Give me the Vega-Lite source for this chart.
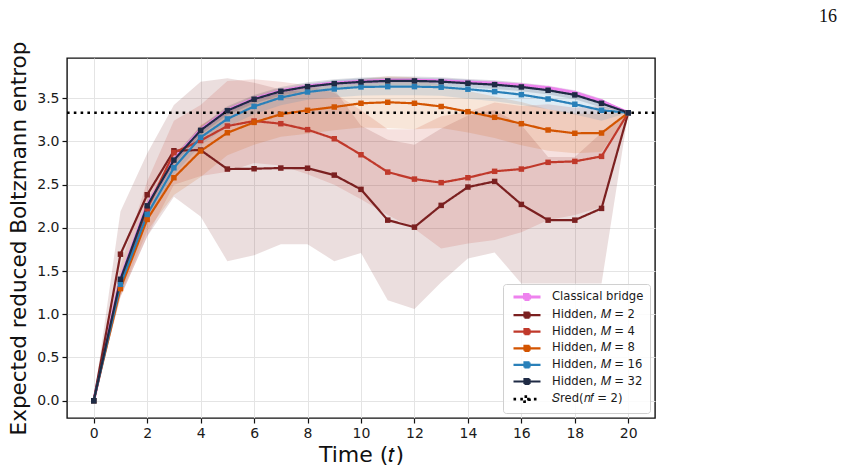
{
  "$schema": "https://vega.github.io/schema/vega-lite/v6.json",
  "width": 588,
  "height": 360,
  "autosize": {"type": "none"},
  "padding": {"left": 67, "top": 58, "right": 190, "bottom": 54},
  "background": "white",
  "title": {
    "text": "16",
    "anchor": "end",
    "frame": "group",
    "font": "Liberation Serif",
    "fontSize": 18,
    "fontWeight": "normal",
    "color": "#111111",
    "dx": 182,
    "offset": 15
  },
  "config": {
    "font": "DejaVu Sans",
    "view": {"stroke": "#111111", "strokeWidth": 1.4},
    "axis": {
      "domain": false,
      "tickColor": "#111111",
      "tickWidth": 1.2,
      "tickSize": 5,
      "labelFont": "DejaVu Sans",
      "labelFontSize": 14,
      "labelColor": "#1a1a1a",
      "gridColor": "#e4e4e4",
      "gridWidth": 1,
      "titleFont": "DejaVu Sans",
      "titleFontSize": 21.5,
      "titleFontWeight": "normal",
      "titleColor": "#111111"
    }
  },
  "datasets": {
    "runs": [
      {"t": 0, "series": "Classical bridge", "mean": 0, "lo": 0, "hi": 0},
      {"t": 1, "series": "Classical bridge", "mean": 1.41, "lo": 1.38, "hi": 1.44},
      {"t": 2, "series": "Classical bridge", "mean": 2.262, "lo": 2.232, "hi": 2.292},
      {"t": 3, "series": "Classical bridge", "mean": 2.792, "lo": 2.762, "hi": 2.822},
      {"t": 4, "series": "Classical bridge", "mean": 3.134, "lo": 3.104, "hi": 3.164},
      {"t": 5, "series": "Classical bridge", "mean": 3.361, "lo": 3.331, "hi": 3.391},
      {"t": 6, "series": "Classical bridge", "mean": 3.493, "lo": 3.463, "hi": 3.523},
      {"t": 7, "series": "Classical bridge", "mean": 3.585, "lo": 3.555, "hi": 3.615},
      {"t": 8, "series": "Classical bridge", "mean": 3.639, "lo": 3.609, "hi": 3.669},
      {"t": 9, "series": "Classical bridge", "mean": 3.675, "lo": 3.645, "hi": 3.705},
      {"t": 10, "series": "Classical bridge", "mean": 3.694, "lo": 3.664, "hi": 3.724},
      {"t": 11, "series": "Classical bridge", "mean": 3.706, "lo": 3.676, "hi": 3.736},
      {"t": 12, "series": "Classical bridge", "mean": 3.707, "lo": 3.677, "hi": 3.737},
      {"t": 13, "series": "Classical bridge", "mean": 3.701, "lo": 3.671, "hi": 3.731},
      {"t": 14, "series": "Classical bridge", "mean": 3.685, "lo": 3.655, "hi": 3.715},
      {"t": 15, "series": "Classical bridge", "mean": 3.673, "lo": 3.643, "hi": 3.703},
      {"t": 16, "series": "Classical bridge", "mean": 3.65, "lo": 3.62, "hi": 3.68},
      {"t": 17, "series": "Classical bridge", "mean": 3.62, "lo": 3.59, "hi": 3.65},
      {"t": 18, "series": "Classical bridge", "mean": 3.564, "lo": 3.534, "hi": 3.594},
      {"t": 19, "series": "Classical bridge", "mean": 3.466, "lo": 3.436, "hi": 3.496},
      {"t": 20, "series": "Classical bridge", "mean": 3.332, "lo": 3.332, "hi": 3.332},

      {"t": 0, "series": "Hidden, 𝑀 = 2", "mean": 0, "lo": 0, "hi": 0},
      {"t": 1, "series": "Hidden, 𝑀 = 2", "mean": 1.695, "lo": 1.2, "hi": 2.19},
      {"t": 2, "series": "Hidden, 𝑀 = 2", "mean": 2.383, "lo": 1.9, "hi": 2.86},
      {"t": 3, "series": "Hidden, 𝑀 = 2", "mean": 2.892, "lo": 2.36, "hi": 3.42},
      {"t": 4, "series": "Hidden, 𝑀 = 2", "mean": 2.9, "lo": 2.13, "hi": 3.69},
      {"t": 5, "series": "Hidden, 𝑀 = 2", "mean": 2.68, "lo": 1.614, "hi": 3.73},
      {"t": 6, "series": "Hidden, 𝑀 = 2", "mean": 2.684, "lo": 1.684, "hi": 3.68},
      {"t": 7, "series": "Hidden, 𝑀 = 2", "mean": 2.692, "lo": 1.811, "hi": 3.6},
      {"t": 8, "series": "Hidden, 𝑀 = 2", "mean": 2.69, "lo": 1.811, "hi": 3.57},
      {"t": 9, "series": "Hidden, 𝑀 = 2", "mean": 2.61, "lo": 1.614, "hi": 3.6},
      {"t": 10, "series": "Hidden, 𝑀 = 2", "mean": 2.445, "lo": 1.71, "hi": 3.18},
      {"t": 11, "series": "Hidden, 𝑀 = 2", "mean": 2.089, "lo": 1.162, "hi": 3.02},
      {"t": 12, "series": "Hidden, 𝑀 = 2", "mean": 2.008, "lo": 1.061, "hi": 2.96},
      {"t": 13, "series": "Hidden, 𝑀 = 2", "mean": 2.26, "lo": 1.37, "hi": 3.15},
      {"t": 14, "series": "Hidden, 𝑀 = 2", "mean": 2.472, "lo": 1.645, "hi": 3.3},
      {"t": 15, "series": "Hidden, 𝑀 = 2", "mean": 2.537, "lo": 1.715, "hi": 3.36},
      {"t": 16, "series": "Hidden, 𝑀 = 2", "mean": 2.271, "lo": 1.355, "hi": 3.19},
      {"t": 17, "series": "Hidden, 𝑀 = 2", "mean": 2.089, "lo": 1.355, "hi": 2.82},
      {"t": 18, "series": "Hidden, 𝑀 = 2", "mean": 2.089, "lo": 1.355, "hi": 2.82},
      {"t": 19, "series": "Hidden, 𝑀 = 2", "mean": 2.225, "lo": 1.355, "hi": 3.1},
      {"t": 20, "series": "Hidden, 𝑀 = 2", "mean": 3.332, "lo": 3.332, "hi": 3.332},

      {"t": 0, "series": "Hidden, 𝑀 = 4", "mean": 0, "lo": 0, "hi": 0},
      {"t": 1, "series": "Hidden, 𝑀 = 4", "mean": 1.38, "lo": 1.2, "hi": 1.56},
      {"t": 2, "series": "Hidden, 𝑀 = 4", "mean": 2.22, "lo": 1.9, "hi": 2.54},
      {"t": 3, "series": "Hidden, 𝑀 = 4", "mean": 2.87, "lo": 2.5, "hi": 3.24},
      {"t": 4, "series": "Hidden, 𝑀 = 4", "mean": 3.01, "lo": 2.6, "hi": 3.42},
      {"t": 5, "series": "Hidden, 𝑀 = 4", "mean": 3.178, "lo": 2.65, "hi": 3.7},
      {"t": 6, "series": "Hidden, 𝑀 = 4", "mean": 3.236, "lo": 2.75, "hi": 3.72},
      {"t": 7, "series": "Hidden, 𝑀 = 4", "mean": 3.205, "lo": 2.72, "hi": 3.69},
      {"t": 8, "series": "Hidden, 𝑀 = 4", "mean": 3.136, "lo": 2.62, "hi": 3.65},
      {"t": 9, "series": "Hidden, 𝑀 = 4", "mean": 3.031, "lo": 2.5, "hi": 3.56},
      {"t": 10, "series": "Hidden, 𝑀 = 4", "mean": 2.846, "lo": 2.33, "hi": 3.36},
      {"t": 11, "series": "Hidden, 𝑀 = 4", "mean": 2.645, "lo": 2.15, "hi": 3.14},
      {"t": 12, "series": "Hidden, 𝑀 = 4", "mean": 2.564, "lo": 1.99, "hi": 3.14},
      {"t": 13, "series": "Hidden, 𝑀 = 4", "mean": 2.523, "lo": 1.76, "hi": 3.29},
      {"t": 14, "series": "Hidden, 𝑀 = 4", "mean": 2.58, "lo": 1.82, "hi": 3.34},
      {"t": 15, "series": "Hidden, 𝑀 = 4", "mean": 2.654, "lo": 1.86, "hi": 3.45},
      {"t": 16, "series": "Hidden, 𝑀 = 4", "mean": 2.68, "lo": 1.95, "hi": 3.41},
      {"t": 17, "series": "Hidden, 𝑀 = 4", "mean": 2.758, "lo": 2.09, "hi": 3.43},
      {"t": 18, "series": "Hidden, 𝑀 = 4", "mean": 2.769, "lo": 2.15, "hi": 3.39},
      {"t": 19, "series": "Hidden, 𝑀 = 4", "mean": 2.827, "lo": 2.24, "hi": 3.41},
      {"t": 20, "series": "Hidden, 𝑀 = 4", "mean": 3.332, "lo": 3.332, "hi": 3.332},

      {"t": 0, "series": "Hidden, 𝑀 = 8", "mean": 0, "lo": 0, "hi": 0},
      {"t": 1, "series": "Hidden, 𝑀 = 8", "mean": 1.297, "lo": 1.217, "hi": 1.377},
      {"t": 2, "series": "Hidden, 𝑀 = 8", "mean": 2.097, "lo": 1.967, "hi": 2.227},
      {"t": 3, "series": "Hidden, 𝑀 = 8", "mean": 2.58, "lo": 2.38, "hi": 2.78},
      {"t": 4, "series": "Hidden, 𝑀 = 8", "mean": 2.889, "lo": 2.589, "hi": 3.189},
      {"t": 5, "series": "Hidden, 𝑀 = 8", "mean": 3.1, "lo": 2.84, "hi": 3.36},
      {"t": 6, "series": "Hidden, 𝑀 = 8", "mean": 3.22, "lo": 2.96, "hi": 3.48},
      {"t": 7, "series": "Hidden, 𝑀 = 8", "mean": 3.314, "lo": 3.054, "hi": 3.574},
      {"t": 8, "series": "Hidden, 𝑀 = 8", "mean": 3.36, "lo": 3.09, "hi": 3.63},
      {"t": 9, "series": "Hidden, 𝑀 = 8", "mean": 3.398, "lo": 3.128, "hi": 3.668},
      {"t": 10, "series": "Hidden, 𝑀 = 8", "mean": 3.441, "lo": 3.161, "hi": 3.721},
      {"t": 11, "series": "Hidden, 𝑀 = 8", "mean": 3.453, "lo": 3.153, "hi": 3.753},
      {"t": 12, "series": "Hidden, 𝑀 = 8", "mean": 3.441, "lo": 3.141, "hi": 3.741},
      {"t": 13, "series": "Hidden, 𝑀 = 8", "mean": 3.404, "lo": 3.154, "hi": 3.654},
      {"t": 14, "series": "Hidden, 𝑀 = 8", "mean": 3.344, "lo": 3.104, "hi": 3.584},
      {"t": 15, "series": "Hidden, 𝑀 = 8", "mean": 3.279, "lo": 3.039, "hi": 3.519},
      {"t": 16, "series": "Hidden, 𝑀 = 8", "mean": 3.205, "lo": 2.955, "hi": 3.455},
      {"t": 17, "series": "Hidden, 𝑀 = 8", "mean": 3.132, "lo": 2.892, "hi": 3.372},
      {"t": 18, "series": "Hidden, 𝑀 = 8", "mean": 3.094, "lo": 2.864, "hi": 3.324},
      {"t": 19, "series": "Hidden, 𝑀 = 8", "mean": 3.097, "lo": 2.877, "hi": 3.317},
      {"t": 20, "series": "Hidden, 𝑀 = 8", "mean": 3.332, "lo": 3.332, "hi": 3.332},

      {"t": 0, "series": "Hidden, 𝑀 = 16", "mean": 0, "lo": 0, "hi": 0},
      {"t": 1, "series": "Hidden, 𝑀 = 16", "mean": 1.347, "lo": 1.297, "hi": 1.397},
      {"t": 2, "series": "Hidden, 𝑀 = 16", "mean": 2.155, "lo": 2.085, "hi": 2.225},
      {"t": 3, "series": "Hidden, 𝑀 = 16", "mean": 2.695, "lo": 2.615, "hi": 2.775},
      {"t": 4, "series": "Hidden, 𝑀 = 16", "mean": 3.047, "lo": 2.957, "hi": 3.137},
      {"t": 5, "series": "Hidden, 𝑀 = 16", "mean": 3.26, "lo": 3.17, "hi": 3.35},
      {"t": 6, "series": "Hidden, 𝑀 = 16", "mean": 3.405, "lo": 3.315, "hi": 3.495},
      {"t": 7, "series": "Hidden, 𝑀 = 16", "mean": 3.507, "lo": 3.417, "hi": 3.597},
      {"t": 8, "series": "Hidden, 𝑀 = 16", "mean": 3.572, "lo": 3.482, "hi": 3.662},
      {"t": 9, "series": "Hidden, 𝑀 = 16", "mean": 3.607, "lo": 3.507, "hi": 3.707},
      {"t": 10, "series": "Hidden, 𝑀 = 16", "mean": 3.63, "lo": 3.53, "hi": 3.73},
      {"t": 11, "series": "Hidden, 𝑀 = 16", "mean": 3.634, "lo": 3.534, "hi": 3.734},
      {"t": 12, "series": "Hidden, 𝑀 = 16", "mean": 3.634, "lo": 3.534, "hi": 3.734},
      {"t": 13, "series": "Hidden, 𝑀 = 16", "mean": 3.627, "lo": 3.527, "hi": 3.727},
      {"t": 14, "series": "Hidden, 𝑀 = 16", "mean": 3.604, "lo": 3.494, "hi": 3.714},
      {"t": 15, "series": "Hidden, 𝑀 = 16", "mean": 3.576, "lo": 3.466, "hi": 3.686},
      {"t": 16, "series": "Hidden, 𝑀 = 16", "mean": 3.541, "lo": 3.421, "hi": 3.661},
      {"t": 17, "series": "Hidden, 𝑀 = 16", "mean": 3.491, "lo": 3.371, "hi": 3.611},
      {"t": 18, "series": "Hidden, 𝑀 = 16", "mean": 3.43, "lo": 3.31, "hi": 3.55},
      {"t": 19, "series": "Hidden, 𝑀 = 16", "mean": 3.36, "lo": 3.24, "hi": 3.48},
      {"t": 20, "series": "Hidden, 𝑀 = 16", "mean": 3.332, "lo": 3.332, "hi": 3.332},

      {"t": 0, "series": "Hidden, 𝑀 = 32", "mean": 0, "lo": 0, "hi": 0},
      {"t": 1, "series": "Hidden, 𝑀 = 32", "mean": 1.405, "lo": 1.365, "hi": 1.445},
      {"t": 2, "series": "Hidden, 𝑀 = 32", "mean": 2.255, "lo": 2.205, "hi": 2.305},
      {"t": 3, "series": "Hidden, 𝑀 = 32", "mean": 2.784, "lo": 2.734, "hi": 2.834},
      {"t": 4, "series": "Hidden, 𝑀 = 32", "mean": 3.128, "lo": 3.078, "hi": 3.178},
      {"t": 5, "series": "Hidden, 𝑀 = 32", "mean": 3.356, "lo": 3.306, "hi": 3.406},
      {"t": 6, "series": "Hidden, 𝑀 = 32", "mean": 3.488, "lo": 3.438, "hi": 3.538},
      {"t": 7, "series": "Hidden, 𝑀 = 32", "mean": 3.58, "lo": 3.53, "hi": 3.63},
      {"t": 8, "series": "Hidden, 𝑀 = 32", "mean": 3.634, "lo": 3.584, "hi": 3.684},
      {"t": 9, "series": "Hidden, 𝑀 = 32", "mean": 3.669, "lo": 3.619, "hi": 3.719},
      {"t": 10, "series": "Hidden, 𝑀 = 32", "mean": 3.688, "lo": 3.638, "hi": 3.738},
      {"t": 11, "series": "Hidden, 𝑀 = 32", "mean": 3.7, "lo": 3.65, "hi": 3.75},
      {"t": 12, "series": "Hidden, 𝑀 = 32", "mean": 3.7, "lo": 3.65, "hi": 3.75},
      {"t": 13, "series": "Hidden, 𝑀 = 32", "mean": 3.692, "lo": 3.642, "hi": 3.742},
      {"t": 14, "series": "Hidden, 𝑀 = 32", "mean": 3.673, "lo": 3.623, "hi": 3.723},
      {"t": 15, "series": "Hidden, 𝑀 = 32", "mean": 3.657, "lo": 3.607, "hi": 3.707},
      {"t": 16, "series": "Hidden, 𝑀 = 32", "mean": 3.63, "lo": 3.58, "hi": 3.68},
      {"t": 17, "series": "Hidden, 𝑀 = 32", "mean": 3.592, "lo": 3.542, "hi": 3.642},
      {"t": 18, "series": "Hidden, 𝑀 = 32", "mean": 3.538, "lo": 3.488, "hi": 3.588},
      {"t": 19, "series": "Hidden, 𝑀 = 32", "mean": 3.441, "lo": 3.391, "hi": 3.491},
      {"t": 20, "series": "Hidden, 𝑀 = 32", "mean": 3.332, "lo": 3.332, "hi": 3.332},

      {"t": -1, "series": "𝑆red(𝑛𝑓 = 2)", "mean": 3.332},
      {"t": 21, "series": "𝑆red(𝑛𝑓 = 2)", "mean": 3.332}
    ]
  },
  "data": {"name": "runs"},
  "layer": [
    {
      "transform": [{"filter": "datum.lo != null"}],
      "mark": {"type": "area", "fillOpacity": 0.15, "clip": true},
      "encoding": {
        "x": {
          "field": "t", "type": "quantitative",
          "scale": {"domain": [-1, 21], "nice": false, "zero": false},
          "axis": {"values": [0, 2, 4, 6, 8, 10, 12, 14, 16, 18, 20], "title": "Time (𝑡)", "titleFontSize": 22, "labelPadding": 3, "titlePadding": 4, "grid": true}
        },
        "y": {
          "field": "lo", "type": "quantitative",
          "scale": {"domain": [-0.2, 3.965], "nice": false, "zero": false},
          "axis": {"values": [0, 0.5, 1, 1.5, 2, 2.5, 3, 3.5], "format": ".1f", "title": "Expected reduced Boltzmann entrop", "labelPadding": 3, "titlePadding": 6, "grid": true}
        },
        "y2": {"field": "hi"},
        "fill": {
          "field": "series", "type": "nominal",
          "scale": {
            "domain": ["Classical bridge", "Hidden, 𝑀 = 2", "Hidden, 𝑀 = 4", "Hidden, 𝑀 = 8", "Hidden, 𝑀 = 16", "Hidden, 𝑀 = 32", "𝑆red(𝑛𝑓 = 2)"],
            "range": ["#ee82ee", "#7b2020", "#c0392b", "#d35400", "#2980b9", "#1f2b45", "transparent"]
          },
          "legend": {
            "title": null,
            "orient": "bottom-right",
            "offset": 5,
            "fillColor": "rgba(255,255,255,0.85)",
            "strokeColor": "#d0d0d0",
            "cornerRadius": 3,
            "padding": 6,
            "labelFont": "DejaVu Sans",
            "labelFontSize": 11.6,
            "labelColor": "#1a1a1a",
            "symbolType": "M-2.7,0H2.7M-0.5,-0.5H0.5V0.5H-0.5Z",
            "symbolSize": 100,
            "symbolOpacity": 1,
            "symbolOffset": 11,
            "labelOffset": 18,
            "rowPadding": 1.6
          }
        }
      }
    },
    {
      "mark": {"type": "line", "clip": true},
      "encoding": {
        "x": {"field": "t", "type": "quantitative"},
        "y": {"field": "mean", "type": "quantitative"},
        "stroke": {
          "field": "series", "type": "nominal",
          "scale": {
            "domain": ["Classical bridge", "Hidden, 𝑀 = 2", "Hidden, 𝑀 = 4", "Hidden, 𝑀 = 8", "Hidden, 𝑀 = 16", "Hidden, 𝑀 = 32", "𝑆red(𝑛𝑓 = 2)"],
            "range": ["#ee82ee", "#7b2020", "#c0392b", "#d35400", "#2980b9", "#1f2b45", "#000000"]
          },
          "legend": {"title": null, "orient": "bottom-right"}
        },
        "strokeDash": {
          "field": "series", "type": "nominal",
          "scale": {
            "domain": ["Classical bridge", "Hidden, 𝑀 = 2", "Hidden, 𝑀 = 4", "Hidden, 𝑀 = 8", "Hidden, 𝑀 = 16", "Hidden, 𝑀 = 32", "𝑆red(𝑛𝑓 = 2)"],
            "range": [[1, 0], [1, 0], [1, 0], [1, 0], [1, 0], [1, 0], [2.6, 4.2]]
          },
          "legend": {"title": null, "orient": "bottom-right"}
        },
        "strokeWidth": {
          "field": "series", "type": "nominal",
          "scale": {
            "type": "ordinal",
            "domain": ["Classical bridge", "Hidden, 𝑀 = 2", "Hidden, 𝑀 = 4", "Hidden, 𝑀 = 8", "Hidden, 𝑀 = 16", "Hidden, 𝑀 = 32", "𝑆red(𝑛𝑓 = 2)"],
            "range": [3.1, 2.2, 2.2, 2.2, 2.2, 2.2, 2.6]
          },
          "legend": {"title": null, "orient": "bottom-right"}
        }
      }
    },
    {
      "transform": [{"filter": "datum.series === 'Classical bridge'"}],
      "mark": {"type": "point", "shape": "circle", "filled": true, "size": 16, "opacity": 1, "strokeWidth": 0},
      "encoding": {
        "x": {"field": "t", "type": "quantitative"},
        "y": {"field": "mean", "type": "quantitative"},
        "fill": {"field": "series", "type": "nominal"}
      }
    },
    {
      "transform": [{"filter": "datum.lo != null && datum.series !== 'Classical bridge'"}],
      "mark": {"type": "point", "shape": "square", "filled": true, "size": 30, "opacity": 1, "strokeWidth": 0},
      "encoding": {
        "x": {"field": "t", "type": "quantitative"},
        "y": {"field": "mean", "type": "quantitative"},
        "fill": {"field": "series", "type": "nominal"}
      }
    }
  ]
}
